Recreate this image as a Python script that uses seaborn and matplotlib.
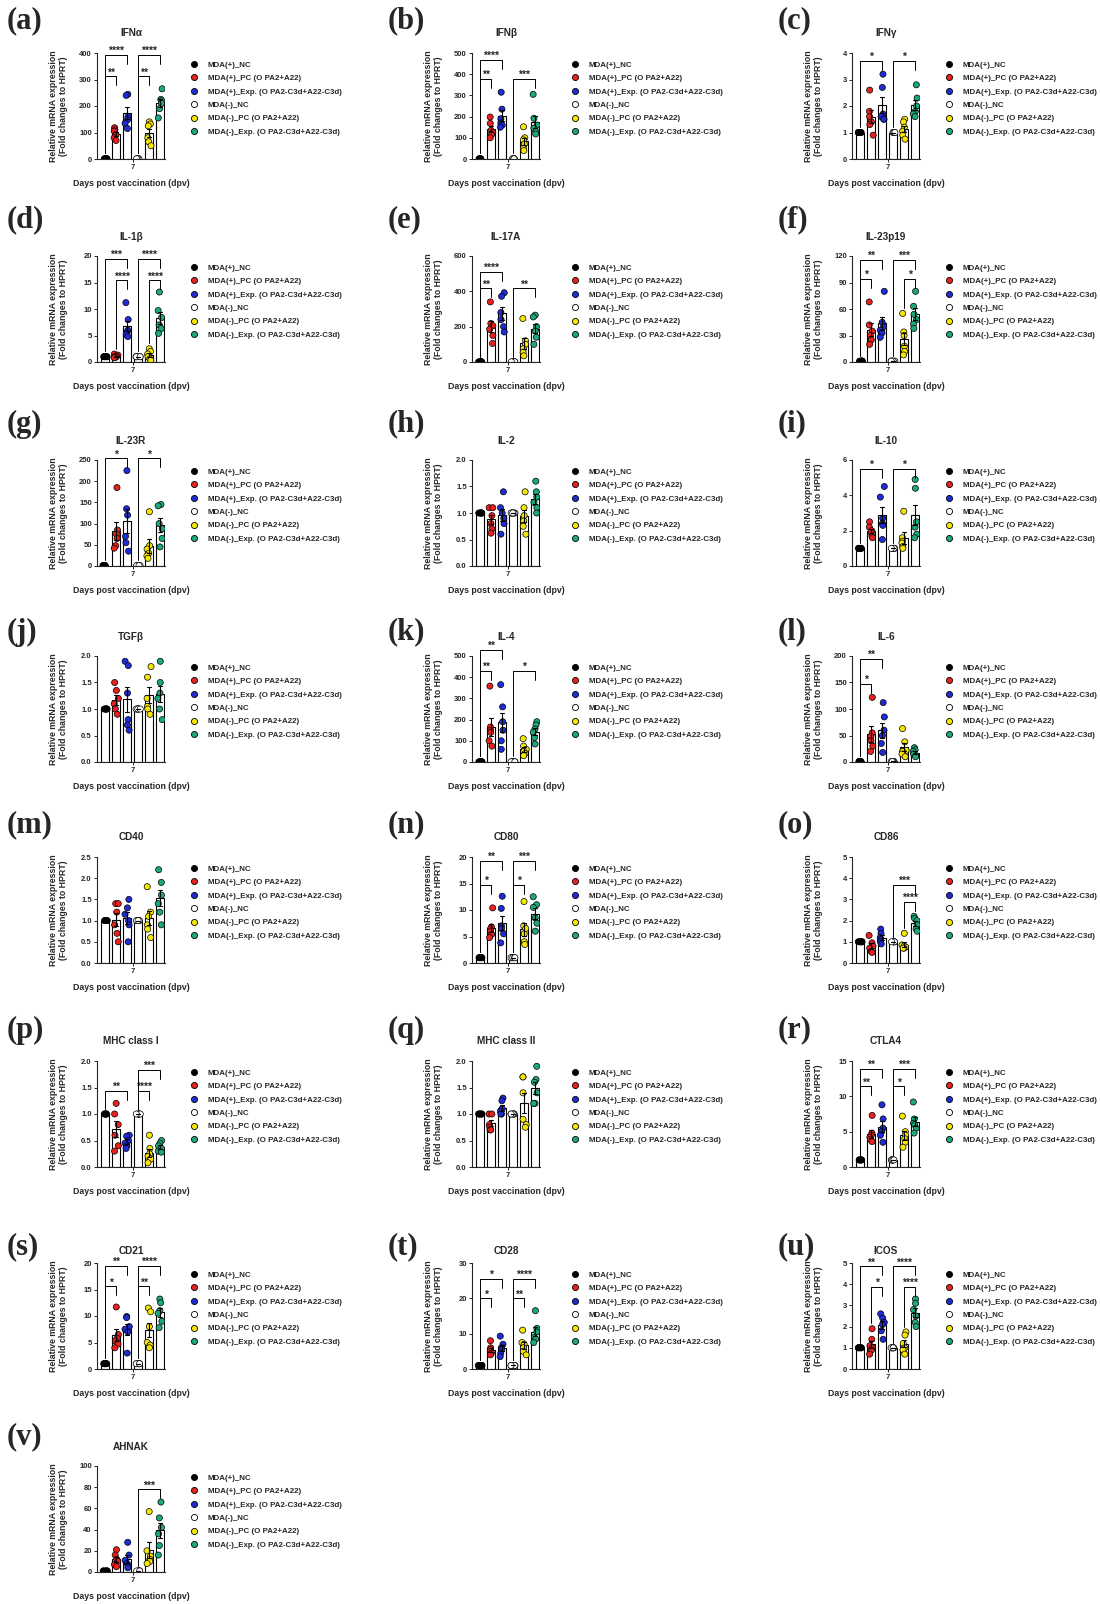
import warnings
import numpy as np
import pandas as pd
import matplotlib
matplotlib.use("Agg")
import matplotlib.pyplot as plt
from matplotlib.lines import Line2D
import seaborn as sns

warnings.filterwarnings("ignore")
np.random.seed(3)  # only for the horizontal jitter of the dots

GROUPS = ["MDA(+)_NC", "MDA(+)_PC (O PA2+A22)", "MDA(+)_Exp. (O PA2-C3d+A22-C3d)",
          "MDA(-)_NC", "MDA(-)_PC (O PA2+A22)", "MDA(-)_Exp. (O PA2-C3d+A22-C3d)"]
COLORS = ["#000000", "#e8201e", "#1f2bd6", "#ffffff", "#f7e600", "#1ba87a"]

NC = [1, 1, 1, 1, 1, 1]   # normalised controls

# per gene: PC(+), Exp(+), PC(-), Exp(-)
IFNA = [[118, 110, 105, 92, 80, 70], [244, 240, 160, 148, 135, 115],
        [140, 132, 125, 80, 65, 50], [265, 225, 220, 210, 190, 155]]
IFNB = [[198, 168, 135, 125, 115, 100], [315, 235, 190, 170, 160, 150],
        [152, 100, 90, 70, 50, 40], [305, 192, 160, 145, 130, 118]]
IFNG = [[2.6, 1.8, 1.6, 1.4, 1.3, 0.9], [3.2, 2.7, 1.7, 1.6, 1.5, 1.5],
        [1.5, 1.4, 1.2, 1.05, 0.9, 0.75], [2.8, 2.3, 2.0, 1.8, 1.7, 1.6]]
IL1B = [[1.5, 1.3, 1.1, 1.0, 0.9, 0.8], [11.2, 8.0, 6.0, 5.6, 5.2, 4.8],
        [2.5, 2.0, 1.5, 1.0, 0.6, 0.3], [13.2, 9.7, 8.4, 7.0, 6.3, 5.4]]
IL17A = [[340, 218, 205, 185, 150, 105], [392, 372, 280, 240, 200, 170],
         [246, 120, 100, 75, 55, 35], [265, 255, 200, 175, 140, 100]]
IL23P19 = [[68, 42, 35, 30, 25, 20], [80, 45, 40, 36, 33, 28],
           [55, 34, 30, 18, 12, 8], [80, 63, 54, 48, 43, 38]]
IL23R = [[185, 85, 75, 65, 48, 42], [225, 135, 120, 70, 55, 35],
         [128, 48, 40, 30, 24, 18], [145, 142, 100, 88, 65, 45]]
IL2 = [[1.1, 1.1, 0.95, 0.8, 0.7, 0.62], [1.4, 1.1, 1.0, 0.9, 0.8, 0.6],
       [1.4, 1.1, 0.95, 0.85, 0.75, 0.6], [1.6, 1.4, 1.3, 1.2, 1.1, 1.0]]
IL10 = [[2.5, 2.2, 2.0, 1.9, 1.7, 1.6], [4.5, 3.9, 2.7, 2.4, 2.3, 1.5],
        [3.1, 1.6, 1.4, 1.3, 1.1, 1.0], [4.9, 4.4, 2.5, 2.2, 1.8, 1.6]]
TGFB = [[1.5, 1.35, 1.2, 1.1, 1.0, 0.9], [1.9, 1.82, 1.3, 0.8, 0.7, 0.6],
        [1.8, 1.6, 1.2, 1.05, 1.0, 0.9], [1.9, 1.5, 1.3, 1.2, 1.0, 0.8]]
IL4 = [[358, 165, 150, 140, 100, 75], [365, 260, 190, 150, 100, 60],
       [110, 75, 60, 50, 40, 30], [190, 175, 155, 140, 115, 85]]
IL6 = [[122, 55, 48, 40, 30, 20], [112, 85, 60, 50, 35, 18],
       [63, 38, 22, 20, 15, 10], [27, 23, 20, 15, 12, 10]]
CD40 = [[1.4, 1.4, 1.2, 0.9, 0.7, 0.5], [1.5, 1.3, 1.15, 1.0, 0.9, 0.5],
        [1.8, 1.2, 1.1, 0.9, 0.8, 0.6], [2.2, 1.9, 1.6, 1.4, 1.2, 0.9]]
CD80 = [[10.4, 6.8, 6.4, 6.0, 5.4, 4.8], [12.6, 10.3, 7.0, 6.5, 5.5, 3.8],
        [11.6, 7.0, 6.5, 5.5, 4.0, 3.5], [12.5, 11.0, 10.5, 8.5, 7.5, 6.0]]
CD86 = [[1.3, 0.95, 0.8, 0.7, 0.55, 0.5], [1.6, 1.4, 1.2, 1.1, 1.0, 0.9],
        [1.4, 0.85, 0.8, 0.75, 0.7, 0.7], [2.2, 2.1, 2.0, 1.8, 1.6, 1.5]]
MHC1 = [[1.2, 1.0, 0.8, 0.6, 0.4, 0.3], [0.6, 0.58, 0.5, 0.45, 0.4, 0.35],
        [0.6, 0.35, 0.25, 0.2, 0.15, 0.08], [0.5, 0.45, 0.4, 0.35, 0.3, 0.28]]
MHC2 = [[1.0, 1.0, 0.8, 0.75, 0.7, 0.7], [1.3, 1.25, 1.1, 1.05, 1.0, 1.0],
        [1.7, 1.7, 1.4, 0.9, 0.8, 0.75], [1.9, 1.65, 1.6, 1.4, 1.2, 1.2]]
CTLA4 = [[7.3, 4.8, 4.5, 4.2, 3.9, 3.6], [8.8, 6.8, 5.5, 5.0, 4.5, 3.5],
         [7.2, 5.0, 4.5, 4.0, 3.5, 2.8], [9.2, 6.8, 6.2, 6.0, 5.5, 4.8]]
CD21 = [[11.7, 6.5, 5.8, 5.3, 4.7, 4.0], [9.9, 9.7, 8.0, 7.5, 7.0, 3.0],
        [11.5, 10.8, 8.0, 5.0, 4.5, 4.0], [13.2, 12.5, 11.0, 10.5, 9.0, 7.8]]
CD28 = [[8.0, 6.0, 5.5, 5.0, 4.5, 4.0], [9.3, 7.0, 6.0, 5.5, 4.5, 3.5],
        [11.0, 7.5, 7.0, 6.0, 5.0, 4.0], [16.5, 11.5, 10.5, 9.0, 8.5, 7.5]]
ICOS = [[1.9, 1.4, 1.1, 1.0, 0.9, 0.7], [2.6, 2.4, 2.2, 2.1, 1.8, 1.4],
        [1.75, 1.6, 1.2, 1.0, 0.9, 0.7], [3.3, 3.1, 2.8, 2.5, 2.2, 2.0]]
AHNAK = [[21, 16, 12, 10, 7, 5], [28, 16, 11, 8, 6, 4],
         [57, 20, 15, 12, 10, 8], [66, 51, 42, 36, 25, 16]]

# (letter, title, data, ymax, ystep, brackets (i, j, level, stars))
PANELS = [
    ("a", "IFNα", IFNA, 400, 100, [(0, 1, 312, "**"), (0, 2, 394, "****"), (3, 4, 312, "**"), (3, 5, 394, "****")]),
    ("b", "IFNβ", IFNB, 500, 100, [(0, 1, 377, "**"), (0, 2, 469, "****"), (3, 5, 377, "***")]),
    ("c", "IFNγ", IFNG, 4, 1, [(0, 2, 3.7, "*"), (3, 5, 3.7, "*")]),
    ("d", "IL-1β", IL1B, 20, 5, [(0, 2, 19.5, "***"), (1, 2, 15.4, "****"), (3, 5, 19.5, "****"), (4, 5, 15.4, "****")]),
    ("e", "IL-17A", IL17A, 600, 200, [(0, 1, 417, "**"), (0, 2, 511, "****"), (3, 5, 417, "**")]),
    ("f", "IL-23p19", IL23P19, 120, 30, [(0, 1, 94, "*"), (0, 2, 116, "**"), (3, 5, 116, "***"), (4, 5, 94, "*")]),
    ("g", "IL-23R", IL23R, 250, 50, [(0, 2, 254, "*"), (3, 5, 254, "*")]),
    ("h", "IL-2", IL2, 2.0, 0.5, []),
    ("i", "IL-10", IL10, 6, 2, [(0, 2, 5.5, "*"), (3, 5, 5.5, "*")]),
    ("j", "TGFβ", TGFB, 2.0, 0.5, []),
    ("k", "IL-4", IL4, 500, 100, [(0, 1, 428, "**"), (0, 2, 528, "**"), (3, 5, 428, "*")]),
    ("l", "IL-6", IL6, 200, 50, [(0, 1, 147, "*"), (0, 2, 194, "**")]),
    ("m", "CD40", CD40, 2.5, 0.5, []),
    ("n", "CD80", CD80, 20, 5, [(0, 1, 14.7, "*"), (0, 2, 19.2, "**"), (3, 4, 14.7, "*"), (3, 5, 19.2, "***")]),
    ("o", "CD86", CD86, 5, 1, [(3, 5, 3.67, "***"), (4, 5, 2.88, "****")]),
    ("p", "MHC class I", MHC1, 2.0, 0.5, [(0, 2, 1.44, "**"), (3, 4, 1.44, "****"), (3, 5, 1.83, "***")]),
    ("q", "MHC class II", MHC2, 2.0, 0.5, []),
    ("r", "CTLA4", CTLA4, 15, 5, [(0, 1, 11.4, "**"), (0, 2, 13.9, "**"), (3, 4, 11.4, "*"), (3, 5, 13.9, "***")]),
    ("s", "CD21", CD21, 20, 5, [(0, 1, 15.6, "*"), (0, 2, 19.4, "**"), (3, 4, 15.6, "**"), (3, 5, 19.4, "****")]),
    ("t", "CD28", CD28, 30, 10, [(0, 1, 20.0, "*"), (0, 2, 25.6, "*"), (3, 4, 20.0, "**"), (3, 5, 25.6, "****")]),
    ("u", "ICOS", ICOS, 5, 1, [(0, 2, 4.84, "**"), (1, 2, 3.88, "*"), (3, 5, 4.84, "****"), (4, 5, 3.88, "****")]),
    ("v", "AHNAK", AHNAK, 100, 20, [(3, 5, 78, "***")]),
]

# layout in pixels
W, H = 1100, 1604
COL_LEFT = [97, 472, 852]
AX_W, AX_H = 68, 106
ROW_TOP = [53, 256, 460, 656, 857, 1061, 1263, 1466]
TITLE_Y = [33, 237, 441, 637, 837, 1041, 1251, 1447]
LABEL_Y = [21, 220, 424, 632, 825, 1030, 1247, 1437]
LABEL_X = [7, 388, 778]
LEG_X = [194, 575, 949]
LEG_FS = 5.7

sns.set_style("ticks")
plt.rcParams["font.family"] = ["Liberation Sans", "DejaVu Sans"]
plt.rcParams["font.weight"] = "bold"
plt.rcParams["axes.labelweight"] = "bold"

fig = plt.figure(figsize=(W / 100, H / 100), dpi=100)

handles = [Line2D([], [], marker="o", linestyle="", markersize=4.4,
                  markerfacecolor=c, markeredgecolor="black", markeredgewidth=0.6)
           for c in COLORS]

for k, (letter, title, groups, ymax, ystep, sig) in enumerate(PANELS):
    row, col = divmod(k, 3)
    left, top = COL_LEFT[col], ROW_TOP[row]
    ax = fig.add_axes([left / W, 1 - (top + AX_H) / H, AX_W / W, AX_H / H])

    values = [NC, groups[0], groups[1], NC, groups[2], groups[3]]
    df = pd.DataFrame({
        "group": np.repeat(GROUPS, [len(v) for v in values]),
        "value": np.concatenate([np.asarray(v, float) for v in values]),
    })

    sns.barplot(data=df, x="group", y="value", order=GROUPS, errorbar="se",
                color="white", edgecolor="black", linewidth=0.8, width=0.68,
                capsize=0.4, err_kws={"color": "black", "linewidth": 0.8}, ax=ax)
    for line in ax.lines:
        line.set_zorder(4)
    sns.stripplot(data=df, x="group", y="value", order=GROUPS, hue="group",
                  hue_order=GROUPS, palette=COLORS, size=4.4, jitter=0.2,
                  edgecolor="black", linewidth=0.5, legend=False, ax=ax, zorder=3)

    ax.set_ylim(0, ymax)
    ax.set_xlim(-0.75, 5.45)
    ticks = np.arange(0, ymax + ystep / 2, ystep)
    ax.set_yticks(ticks)
    if ystep < 1:
        ax.set_yticklabels([f"{t:.1f}" for t in ticks])
    else:
        ax.set_yticklabels([f"{t:g}" for t in ticks])
    ax.set_xticks([2.5])
    ax.set_xticklabels(["7"])
    ax.tick_params(axis="both", labelsize=5.5, length=2.2, width=0.7, pad=1.5)
    for lab in ax.get_xticklabels() + ax.get_yticklabels():
        lab.set_fontweight("bold")
    sns.despine(ax=ax)
    for s in ("left", "bottom"):
        ax.spines[s].set_linewidth(0.8)

    ax.set_xlabel("Days post vaccination (dpv)", fontsize=6.3, fontweight="bold")
    ax.xaxis.set_label_coords(0.5, -0.19)
    ax.set_ylabel("Relative mRNA expression\n(Fold changes to HPRT)",
                  fontsize=6.3, fontweight="bold", linespacing=1.05)
    ax.yaxis.set_label_coords(-0.43, 0.5)

    # significance brackets
    leg_short = 9 / AX_H * ymax
    for i, j, level, stars in sig:
        low_i = max(values[i]) + 0.05 * ymax
        ax.plot([i, i, j, j], [low_i, level, level, level - leg_short],
                color="black", linewidth=0.7, clip_on=False, zorder=5)
        ax.text((i + j) / 2, level - 0.01 * ymax, stars, ha="center", va="bottom",
                fontsize=7.5, fontweight="bold", clip_on=False)

    # titles and panel letters
    fig.text((left + AX_W / 2) / W, 1 - TITLE_Y[row] / H, title, ha="center",
             va="center", fontsize=7.2, fontweight="bold")
    fig.text(LABEL_X[col] / W, 1 - LABEL_Y[row] / H, f"({letter})", ha="left",
             va="center", fontsize=22, fontweight="bold",
             family=["Liberation Serif", "DejaVu Serif"])

    fs_px = LEG_FS / 72 * 100
    ax.legend(handles, GROUPS, loc="upper left", frameon=False,
              bbox_to_anchor=((LEG_X[col] - 0.5 * fs_px) / W,
                              1 - (top + 13 - 0.6 * fs_px) / H),
              bbox_transform=fig.transFigure, borderpad=0, borderaxespad=0,
              handlelength=1.0, handletextpad=1.25, labelspacing=0.74,
              prop={"size": LEG_FS, "weight": "bold"})

fig.savefig("out.png", dpi=100)
